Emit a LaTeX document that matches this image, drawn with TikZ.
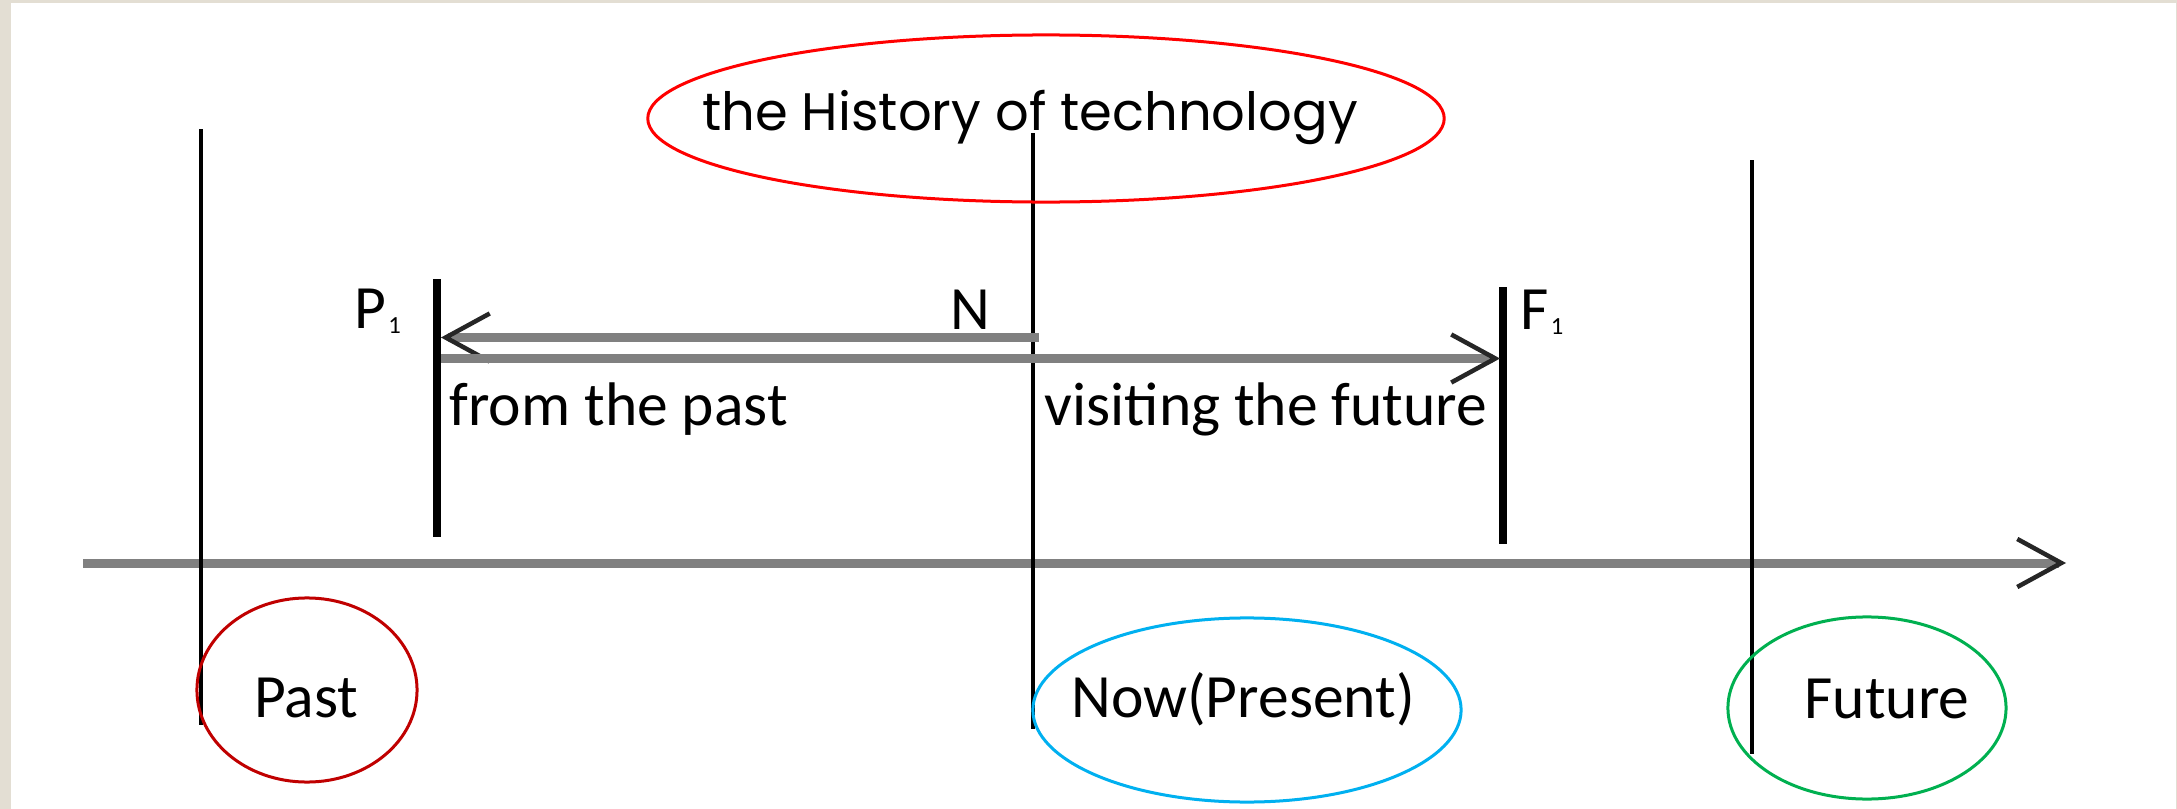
\documentclass[tikz,border=0pt]{standalone}
\usepackage{fontspec}
\setmainfont{Carlito}
\newfontfamily\gothic{Poppins}
\usetikzlibrary{arrows.meta}
\definecolor{frame}{HTML}{E3DED3}
\definecolor{shaft}{gray}{0.5}
\definecolor{pastred}{HTML}{C00000}
\definecolor{nowblue}{HTML}{00B0F0}
\definecolor{futgreen}{HTML}{00B050}
\newcommand\idx[1]{\raisebox{-0.05cm}{\fontsize{7}{7}\selectfont #1}}
\tikzset{
	barb/.tip={Straight Barb[length=0.44cm,width=0.48cm,line width=0.045cm,color=black!85]},
	lbl/.style={anchor=base,inner sep=0pt,font=\fontsize{17.5}{17.5}\selectfont},
	ring/.style={draw=#1,line width=0.03cm},
	era/.style={line width=0.04cm},
	bar/.style={line width=0.08cm},
	shaftline/.style={draw=shaft,line width=0.09cm}
}
\begin{document}
\begin{tikzpicture}[x=0.01cm,y=-0.01cm,line join=round]
	\useasboundingbox (0,0) rectangle (2177,809);
	\fill[frame] (0,0) rectangle (2177,809);
	\fill[white] (11,3) rectangle (2176,809);
	\def\ax{563}
	\coordinate (axisstart) at (83,\ax);
	\coordinate (axisend) at (2066,\ax);
	\draw[shaftline,-barb] (axisstart)--(axisend);
	% eras
	\coordinate (pasttop) at (201,129);\coordinate (pastbot) at (201,725);
	\coordinate (nowtop) at (1033,133);\coordinate (nowbot) at (1033,729);
	\coordinate (futtop) at (1752,160);\coordinate (futbot) at (1752,754);
	\foreach \e in {past,now,fut}\draw[era] (\e top)--(\e bot);
	% travel bars
	\coordinate (ptop) at (437,279);\coordinate (pbot) at (437,537);
	\coordinate (ftop) at (1503,287);\coordinate (fbot) at (1503,544);
	\foreach \b in {p,f}\draw[bar] (\b top)--(\b bot);
	\coordinate (nleft) at (1039,337.5);\coordinate (pleft) at (441,337.5);
	\coordinate (pright) at (441,358.5);\coordinate (fright) at (1500,358.5);
	\draw[shaftline,-barb] (nleft)--(pleft);
	\draw[shaftline,-barb] (pright)--(fright);
	\node[lbl,anchor=base west] (plabel) at (354,328) {P\kern0.02cm\idx{1}};
	\node[lbl,anchor=base west] (flabel) at (1520,329) {F\kern0.02cm\idx{1}};
	\node[lbl] (nlabel) at (970,329) {N};
	\node[lbl,anchor=base west] (fromtxt) at (449,425) {from the past};
	\node[lbl,anchor=base west] (visittxt) at (1044,425) {visiting the future};
	% rings
	\draw[ring=red] (1046,118.5) ellipse [x radius=3.98cm,y radius=0.835cm];
	\node[anchor=base,font=\gothic\fontsize{15}{15}\selectfont] (title) at (1030,130) {the History of technology};
	\draw[ring=pastred] (307,690) ellipse [x radius=1.1cm,y radius=0.92cm];
	\node[lbl] (past) at (306,717) {Past};
	\draw[ring=nowblue] (1247,710) ellipse [x radius=2.14cm,y radius=0.92cm];
	\node[lbl] (now) at (1243,717) {Now(Present)};
	\draw[ring=futgreen] (1867,708) ellipse [x radius=1.39cm,y radius=0.91cm];
	\node[lbl] (future) at (1887,718) {Future};
\end{tikzpicture}
\end{document}
